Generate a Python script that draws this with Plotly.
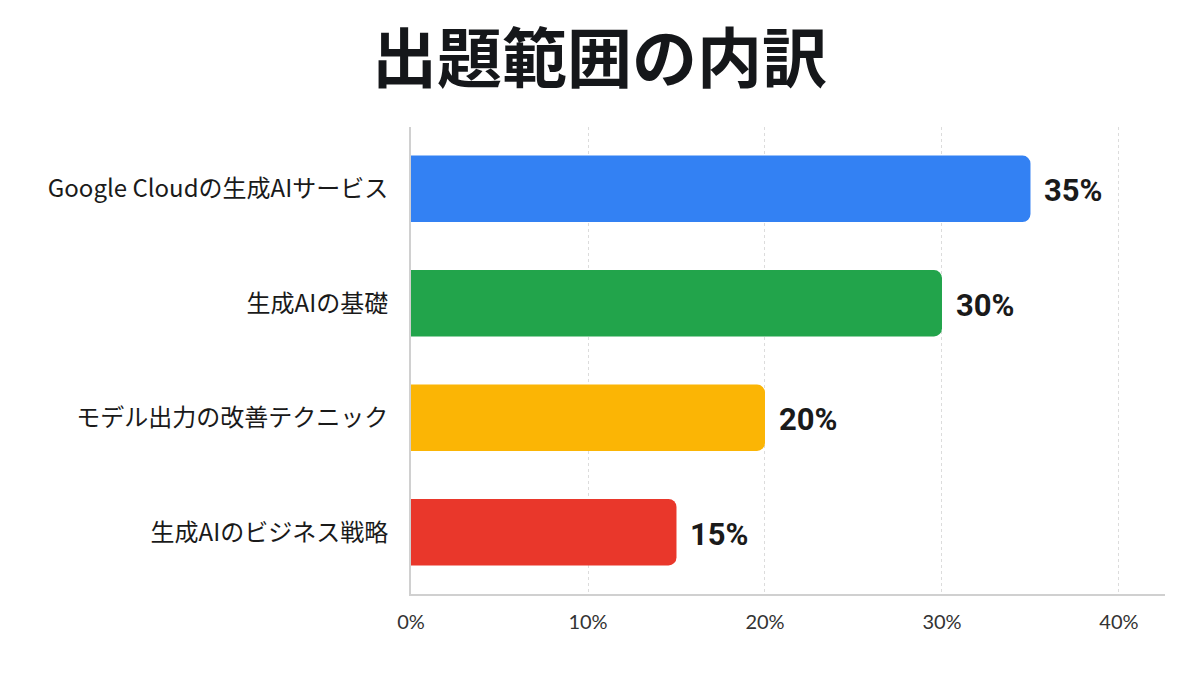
import plotly.graph_objects as go

categories = ["Google Cloudの生成AIサービス", "生成AIの基礎", "モデル出力の改善テクニック", "生成AIのビジネス戦略"]
values = [35, 30, 20, 15]
colors = ["#3381F3", "#22A44B", "#FBB505", "#E9372B"]
tick_vals = [0, 10, 20, 30, 40]
tick_text = ["0%", "10%", "20%", "30%", "40%"]
title_text = "出題範囲の内訳"

fig = go.Figure()
fig.add_trace(go.Bar(
    y=categories,
    x=values,
    orientation="h",
    marker=dict(color=colors, cornerradius=8, line=dict(width=0)),
    width=0.58,
    hoverinfo="skip",
))

for cat, v in zip(categories, values):
    fig.add_annotation(
        x=v, y=cat, text=f"{v}%", showarrow=False,
        xanchor="left", yanchor="middle", xshift=12, yshift=-2,
        font=dict(family="Roboto", size=31, color="#1a1a1a", weight="bold"),
    )

fig.update_layout(
    width=1200, height=675,
    paper_bgcolor="white", plot_bgcolor="white",
    margin=dict(l=403, r=43, t=119, b=89),
    title=dict(
        text=title_text, x=0.493, xanchor="center", y=0.924, yanchor="middle",
        font=dict(family="Noto Sans CJK JP", size=65, color="#15171a", weight="bold"),
    ),
    showlegend=False,
)
fig.update_xaxes(
    range=[0, 42.6],
    tickvals=tick_vals, ticktext=tick_text,
    showgrid=True, gridcolor="#dcdcdc", griddash="dot", gridwidth=1,
    showline=True, linecolor="#d0d0d0", linewidth=2,
    zeroline=False, ticks="",
    tickfont=dict(family="Lato", size=20, color="#333333"),
    ticklabelstandoff=9,
)
fig.update_yaxes(
    range=[3.54, -0.54],
    showgrid=False, showline=True, linecolor="#d0d0d0", linewidth=2,
    ticks="", ticklabelstandoff=16,
    tickfont=dict(family="Noto Sans CJK JP", size=24, color="#1a1a1a"),
)

fig.write_html("out.html")
